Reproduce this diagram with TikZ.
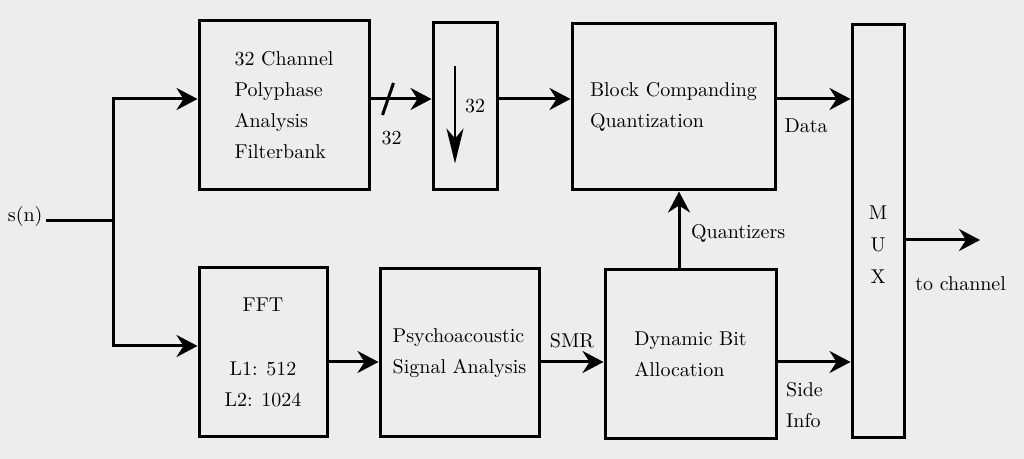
\documentclass[tikz,border=0pt]{standalone}
\usetikzlibrary{arrows.meta}
\begin{document}
\begin{tikzpicture}[x=0.5pt, y=-0.5pt, line width=1.5pt,
    every node/.style={font=\fontsize{10}{15.5}\selectfont},
    blk/.style={draw, line width=1.5pt, inner sep=2pt},
    sig/.style={-{Stealth[length=10.5pt, width=11pt, inset=3.5pt]}}]
  \path[use as bounding box, fill=black!7] (0,0) rectangle (1024,459);
  % upper branch
  \node[blk, minimum width=85pt, minimum height=84.5pt, align=left] (fb) at (284,105.5) {32 Channel\\Polyphase\\Analysis\\Filterbank};
  \node[blk, minimum width=32pt, minimum height=83.5pt] (ds) at (465,106.5) {};
  \node[blk, minimum width=101.5pt, minimum height=83pt, align=left] (bcq) at (673.5,107) {Block Companding\\Quantization};
  \node[blk, minimum width=26pt, minimum height=206.5pt] (mux) at (878,231.5) {};
  \node[align=center] (muxtxt) at (878,245) {M\\[0.5pt]U\\[0.5pt]X};
  % lower branch
  \node[blk, minimum width=64pt, minimum height=84.5pt, align=center] (fft) at (263,352.5) {FFT\\[16.5pt]L1: 512\\L2: 1024};
  \node[blk, minimum width=79.5pt, minimum height=84pt, align=left] (pa) at (459.5,353) {Psychoacoustic\\Signal Analysis};
  \node[blk, minimum width=85.5pt, minimum height=84.5pt, align=left] (dba) at (690.5,354.5) {Dynamic Bit\\Allocation};
  \coordinate (split) at (113,221);
  \coordinate (top) at (113,99);
  \coordinate (bot) at (113,346);
  \coordinate (low) at (0,362);
  \coordinate (qx) at (679,0);
  \coordinate (out) at (980,240);
  \coordinate (fbout) at (fb.east |- top);
  % input
  \node[anchor=east, inner sep=1pt] (sn) at (46,217) {s(n)};
  \draw (sn.east |- split) -- (split);
  \draw[sig] (split) |- (fb.west |- top);
  \draw[sig] (split) |- (fft.west |- bot);
  \draw[sig] (fbout) -- (ds.west |- top);
  \draw ([xshift=6pt,yshift=-8pt]fbout) -- ++(11,-32);
  \node at ([xshift=10.5pt,yshift=-19.5pt]fbout) {32};
  % decimation by 32
  \draw[-{Stealth[length=17.5pt, width=8.5pt, inset=5pt]}, line width=1pt] ([xshift=-5pt,yshift=-22.5pt]ds.north) -- ([xshift=-5pt,yshift=14pt]ds.south);
  \node at ([xshift=5pt]ds.center) {32};
  \draw[sig] (ds.east |- top) -- (bcq.west |- top);
  \draw[sig] (bcq.east |- top) -- (mux.west |- top) node[pos=0.4, below=6pt]{Data};
  \draw[sig] (dba.north -| qx) -- (bcq.south -| qx) node[pos=0.46, right=2pt]{Quantizers};
  \draw[sig] (mux.east |- out) -- (out) node[pos=0.74, below=14pt]{to channel};
  \draw[sig] (fft.east |- low) -- (pa.west |- low);
  \draw[sig] (pa.east |- low) -- (dba.west |- low) node[midway, above=3pt]{SMR};
  \draw[sig] (dba.east |- low) -- (mux.west |- low) node[pos=0.37, below=6pt, align=left]{Side\\Info};
\end{tikzpicture}
\end{document}
